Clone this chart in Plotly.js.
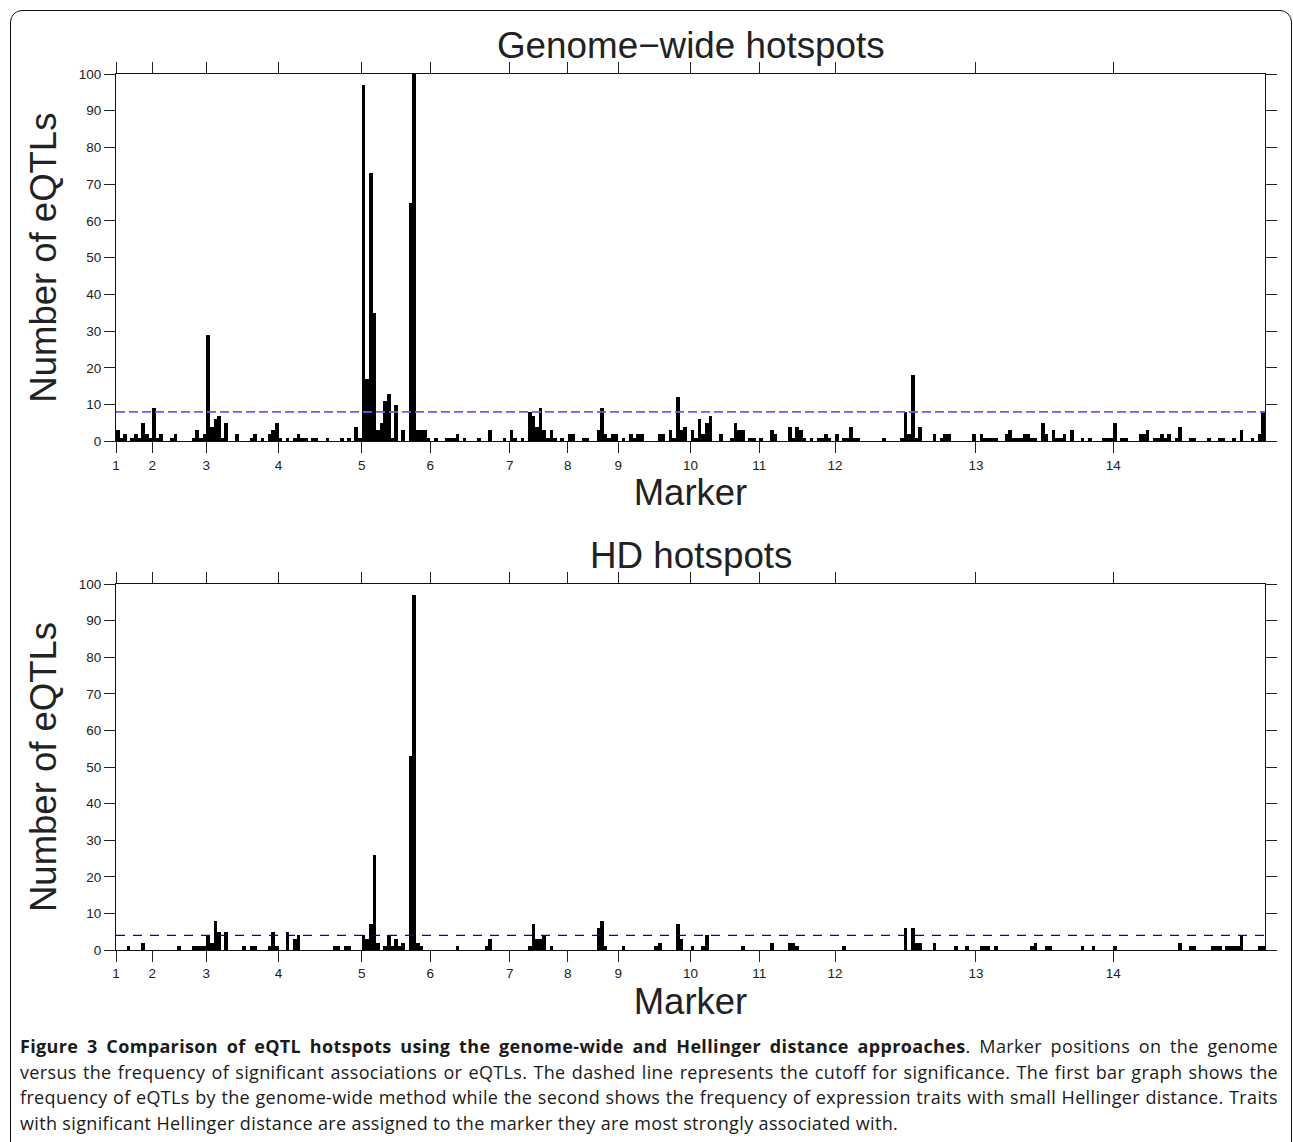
<!DOCTYPE html>
<html>
<head>
<meta charset="utf-8">
<script src="https://cdn.plot.ly/plotly-3.0.1.min.js"></script>
<style>
  html, body { margin:0; padding:0; background:#fff; }
  body { width:1293px; height:1142px; overflow:hidden; position:relative; }
  #frame { position:absolute; left:10px; top:10px; width:1282px; height:1160px;
           border:1.6px solid #111; border-radius:12px; box-sizing:border-box; }
  #chart { position:absolute; left:0; top:0; width:1293px; height:1030px; }
  #caption { position:absolute; left:20px; top:1034px; width:1258px;
             font-family:"Open Sans", "Noto Sans", sans-serif; font-size:18px;
             letter-spacing:0.35px; line-height:25.7px; color:#1a1a1a; }
  #caption .ln { text-align:justify; text-align-last:justify; white-space:nowrap; }
  #caption .last { text-align:left; white-space:nowrap; }
</style>
</head>
<body>
<div id="frame"></div>
<div id="chart"></div>
<div id="caption">
  <div class="ln"><b>Figure 3 Comparison of eQTL hotspots using the genome-wide and Hellinger distance approaches</b>. Marker positions on the genome</div>
  <div class="ln">versus the frequency of significant associations or eQTLs. The dashed line represents the cutoff for significance. The first bar graph shows the</div>
  <div class="ln">frequency of eQTLs by the genome-wide method while the second shows the frequency of expression traits with small Hellinger distance. Traits</div>
  <div class="last">with significant Hellinger distance are assigned to the marker they are most strongly associated with.</div>
</div>
<script>
// ---------------- data ----------------
const nMarkers = 318;
const chromLabels = ['1','2','3','4','5','6','7','8','9','10','11','12','13','14'];
const chromStart  = [1, 11, 26, 46, 69, 88, 110, 126, 140, 160, 179, 200, 239, 277];

const gwCutoff = 8;
const hdCutoff = 4;

// genome-wide hotspots: marker index -> number of eQTLs
const gwMarker = [1,2,3,5,6,7,8,9,10,11,12,13,16,17,22,23,24,25,26,27,28,29,30,31,34,38,39,41,43,44,45,46,48,50,51,52,53,55,56,59,63,65,67,68,69,70,71,72,73,74,75,76,77,78,80,82,83,84,85,86,87,89,92,93,94,95,97,101,104,108,110,111,113,115,116,117,118,119,120,121,122,124,126,127,130,131,134,135,136,137,138,139,141,143,144,145,146,151,152,154,155,156,157,158,160,161,162,163,164,165,168,171,172,173,174,176,177,179,182,183,187,188,189,190,191,193,195,196,197,198,200,202,203,204,205,206,213,218,219,220,221,222,223,227,229,230,231,238,240,241,242,243,244,247,248,249,250,251,252,253,254,255,257,258,260,261,262,263,265,268,270,274,275,276,277,279,280,284,285,286,288,289,290,291,292,294,295,298,299,303,306,307,310,312,315,317,318];
const gwCount  = [3,1,2,1,2,1,5,2,1,9,1,2,1,2,1,3,1,2,29,4,6,7,1,5,2,1,2,1,2,3,5,1,1,1,2,1,1,1,1,1,1,1,4,1,97,17,73,35,3,5,11,13,1,10,3,65,100,3,3,3,1,1,1,1,1,2,1,1,3,1,3,1,1,8,7,4,9,3,1,3,1,1,2,2,1,1,3,9,2,1,2,2,1,2,1,2,2,2,2,3,1,12,3,4,3,1,6,2,5,7,2,1,5,3,3,1,1,1,3,2,4,1,4,3,1,1,1,1,2,1,2,1,1,4,1,1,1,1,8,2,18,1,4,2,1,2,2,2,2,1,1,1,1,2,3,1,1,1,2,2,1,1,5,2,3,1,1,2,3,1,1,1,1,1,5,1,1,2,2,3,1,1,2,1,2,1,4,1,1,1,1,1,1,3,1,2,8];

// HD hotspots: marker index -> number of expression traits
const hdMarker = [4,8,18,22,23,24,25,26,27,28,29,31,36,38,39,43,44,45,48,50,51,61,62,64,65,69,70,71,72,73,75,76,77,78,79,80,82,83,84,85,95,103,104,115,116,117,118,119,121,134,135,136,141,150,151,156,157,160,163,164,174,182,187,188,189,202,219,221,222,223,227,233,236,240,241,242,244,254,255,258,259,268,271,277,295,298,299,304,305,306,308,309,310,311,312,317,318];
const hdCount  = [1,2,1,1,1,1,1,4,2,8,5,5,1,1,1,1,5,1,5,3,4,1,1,1,1,4,3,7,26,2,1,4,1,3,1,2,53,97,2,1,1,1,3,1,7,3,3,4,1,6,8,1,1,1,2,7,3,1,1,4,1,2,2,2,1,1,6,6,2,2,2,1,1,1,1,1,1,1,2,1,1,1,1,1,2,1,1,1,1,1,1,1,1,1,4,1,1];

const yTicks = [0,10,20,30,40,50,60,70,80,90,100];

// ---------------- layout ----------------
const FONT = 'Liberation Sans, Arial, Helvetica, sans-serif';
const W = 1293, H = 1030, mL = 116, mR = 28, mT = 74, mB = 80;
const plotH = H - mT - mB;
const pxToPaperY = py => (H - mB - py) / plotH;

function xAxis(anchor) {
  return {
    anchor: anchor, domain: [0, 1],
    range: [0.5, nMarkers + 0.5],
    tickmode: 'array',
    tickvals: chromStart.map(s => s - 0.5),
    ticktext: chromLabels,
    ticks: 'outside', ticklen: 11, tickwidth: 1, tickcolor: '#222',
    showline: true, linecolor: '#111', linewidth: 1, mirror: 'ticks',
    showgrid: false, zeroline: false,
    tickfont: {family: FONT, size: 13.5, color: '#222'},
    title: {text: 'Marker', font: {family: FONT, size: 36.5, color: '#222'}, standoff: 4}
  };
}
function yAxis(anchor, domain) {
  return {
    anchor: anchor, domain: domain,
    range: [0, 100], tickmode: 'array', tickvals: yTicks,
    ticks: 'outside', ticklen: 11, tickwidth: 1, tickcolor: '#222',
    showline: true, linecolor: '#111', linewidth: 1, mirror: 'ticks',
    showgrid: false, zeroline: false,
    tickfont: {family: FONT, size: 13.5, color: '#222'},
    title: {text: 'Number of eQTLs', font: {family: FONT, size: 36.5, color: '#222'}, standoff: 10}
  };
}

const traces = [
  {type: 'bar', x: gwMarker, y: gwCount, xaxis: 'x', yaxis: 'y', width: 1,
   marker: {color: '#000', line: {width: 0}}, hoverinfo: 'skip'},
  {type: 'bar', x: hdMarker, y: hdCount, xaxis: 'x2', yaxis: 'y2', width: 1,
   marker: {color: '#000', line: {width: 0}}, hoverinfo: 'skip'}
];

const layout = {
  width: W, height: H,
  margin: {l: mL, r: mR, t: mT, b: mB, pad: 0},
  paper_bgcolor: 'rgba(0,0,0,0)', plot_bgcolor: '#fff',
  showlegend: false, bargap: 0,
  xaxis: xAxis('y'),
  yaxis: yAxis('x', [pxToPaperY(441.3), 1]),
  xaxis2: xAxis('y2'),
  yaxis2: yAxis('x2', [0, pxToPaperY(584)]),
  shapes: [
    {type: 'line', xref: 'x', yref: 'y', x0: 0.5, x1: nMarkers + 0.5, y0: gwCutoff, y1: gwCutoff,
     line: {color: 'rgb(95,95,255)', width: 1.6, dash: '9px,4px'}},
    {type: 'line', xref: 'x2', yref: 'y2', x0: 0.5, x1: nMarkers + 0.5, y0: hdCutoff, y1: hdCutoff,
     line: {color: 'rgb(0,0,200)', width: 1.1, dash: '9px,8px'}}
  ],
  annotations: [
    {text: 'Genome\u2212wide hotspots', xref: 'paper', yref: 'paper', x: 0.5, y: pxToPaperY(46),
     xanchor: 'center', yanchor: 'middle', showarrow: false,
     font: {family: FONT, size: 36.8, color: '#222'}},
    {text: 'HD hotspots', xref: 'paper', yref: 'paper', x: 0.5, y: pxToPaperY(555),
     xanchor: 'center', yanchor: 'middle', showarrow: false,
     font: {family: FONT, size: 36.8, color: '#222'}}
  ]
};

Plotly.newPlot('chart', traces, layout, {staticPlot: true, displayModeBar: false});
</script>
</body>
</html>
